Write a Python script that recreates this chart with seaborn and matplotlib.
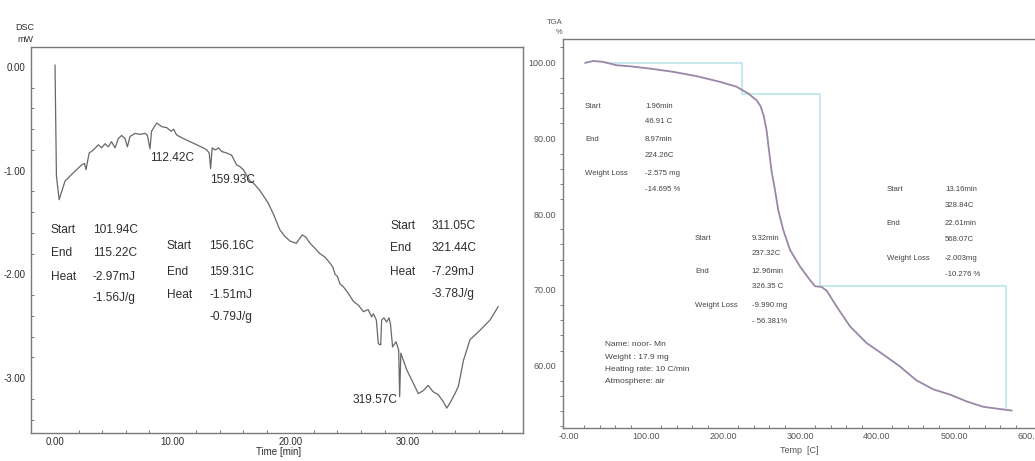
import matplotlib
matplotlib.use("Agg")
import matplotlib.pyplot as plt
from matplotlib.ticker import MultipleLocator, FormatStrFormatter
import seaborn as sns
import pandas as pd

# ---- DSC trace (time in min, heat flow in mW) ----
dsc_time = [0.0, 0.12, 0.35, 0.85, 1.56, 2.26, 2.50, 2.63, 2.90, 3.26, 3.68, 3.96, 4.25, 4.53,
            4.80, 5.10, 5.38, 5.66, 5.95, 6.15, 6.37, 6.80, 7.22, 7.65, 7.85, 8.07, 8.20,
            8.64, 9.06, 9.50, 9.86, 10.08, 10.33, 10.90, 11.47, 12.04, 12.60, 12.90, 13.10,
            13.22, 13.35, 13.60, 13.90, 14.16, 14.60, 15.00, 15.44, 15.70, 16.00, 16.30,
            16.57, 16.86, 17.40, 18.10, 18.60, 19.10, 19.50, 19.97, 20.50, 21.00, 21.30,
            21.67, 22.10, 22.50, 22.90, 23.36, 23.60, 23.80, 24.00, 24.20, 24.50, 24.90,
            25.35, 25.80, 26.20, 26.60, 26.90, 27.05, 27.30, 27.47, 27.67, 27.75, 27.95,
            28.17, 28.38, 28.50, 28.68, 28.97, 29.20, 29.28, 29.38, 29.88, 30.44, 30.87,
            31.30, 31.70, 32.10, 32.56, 33.00, 33.28, 33.56, 33.98, 34.27, 34.70, 35.26,
            36.10, 36.96, 37.66]
dsc_mw = [0.02, -1.05, -1.28, -1.10, -1.02, -0.945, -0.93, -0.99, -0.83, -0.80, -0.75, -0.78,
          -0.74, -0.77, -0.72, -0.78, -0.69, -0.66, -0.69, -0.77, -0.67, -0.64, -0.65, -0.64,
          -0.66, -0.79, -0.62, -0.54, -0.575, -0.585, -0.62, -0.60, -0.655, -0.69, -0.72,
          -0.75, -0.78, -0.80, -0.83, -0.98, -0.78, -0.80, -0.78, -0.815, -0.83, -0.85,
          -0.945, -0.96, -0.99, -1.05, -1.10, -1.12, -1.19, -1.31, -1.43, -1.57, -1.63,
          -1.68, -1.70, -1.62, -1.64, -1.70, -1.75, -1.80, -1.83, -1.89, -1.93, -2.00,
          -2.02, -2.09, -2.12, -2.18, -2.26, -2.30, -2.36, -2.34, -2.41, -2.38, -2.44,
          -2.67, -2.68, -2.44, -2.42, -2.46, -2.42, -2.48, -2.70, -2.65, -2.73, -3.18,
          -2.76, -2.92, -3.05, -3.15, -3.12, -3.07, -3.13, -3.16, -3.23, -3.29, -3.24,
          -3.15, -3.08, -2.83, -2.63, -2.54, -2.44, -2.31]

# DSC peak labels: (text, time, mW)
dsc_peaks = [("112.42C", 8.07, -0.88), ("159.93C", 13.2, -1.09), ("319.57C", 25.3, -3.21)]
# DSC event tables: label column x, value column x, row y positions, rows
dsc_tables = [
    (-0.35, 3.2, [-1.57, -1.79, -2.03, -2.23],
     ["Start", "End", "Heat", ""], ["101.94C", "115.22C", "-2.97mJ", "-1.56J/g"]),
    (9.5, 13.1, [-1.73, -1.98, -2.20, -2.41],
     ["Start", "End", "Heat", ""], ["156.16C", "159.31C", "-1.51mJ", "-0.79J/g"]),
    (28.5, 32.0, [-1.53, -1.75, -1.98, -2.19],
     ["Start", "End", "Heat", ""], ["311.05C", "321.44C", "-7.29mJ", "-3.78J/g"]),
]

# ---- TGA trace (temperature in C, weight in %) ----
tga_temp = [20.8, 31.6, 44.6, 61.9, 79.2, 105.0, 135.5, 165.8, 196.0, 217.8, 232.9, 243.8,
            249.0, 253.0, 256.7, 259.5, 263.2, 267.5, 271.8, 278.3, 287.0, 300.0, 313.0,
            319.5, 328.0, 334.7, 347.7, 365.0, 386.6, 408.0, 430.0, 451.0, 473.0, 495.0,
            516.5, 538.0, 559.7, 575.0]
tga_weight = [99.95, 100.2, 100.08, 99.64, 99.5, 99.2, 98.77, 98.2, 97.45, 96.8, 95.9, 95.0,
              94.2, 92.9, 91.0, 88.6, 85.6, 83.2, 80.5, 77.9, 75.3, 73.1, 71.3, 70.5, 70.4,
              69.9, 67.8, 65.2, 63.0, 61.5, 59.9, 58.1, 56.9, 56.2, 55.3, 54.6, 54.3, 54.1]

# TGA step construction (temperature, weight level)
step_temp = [46.91, 224.26, 224.26, 326.35, 326.35, 568.07, 568.07]
step_weight = [100.0, 100.0, 95.9, 95.9, 70.5, 70.5, 54.4]

tga_tables = [
    (20.8, 98.7, [94.2, 92.2, 89.8, 87.8, 85.4, 83.3],
     ["Start", "", "End", "", "Weight Loss", ""],
     ["1.96min", "46.91 C", "8.97min", "224.26C", "-2.575 mg", "-14.695 %"]),
    (163.6, 237.3, [76.8, 74.8, 72.4, 70.4, 68.0, 65.8],
     ["Start", "", "End", "", "Weight Loss", ""],
     ["9.32min", "237.32C", "12.96min", "326.35 C", "-9.990 mg", "- 56.381%"]),
    (412.6, 488.3, [83.2, 81.1, 78.8, 76.6, 74.2, 72.1],
     ["Start", "", "End", "", "Weight Loss", ""],
     ["13.16min", "328.84C", "22.61min", "568.07C", "-2.003mg", "-10.276 %"]),
]
sample_info = ["Name: noor- Mn", "Weight : 17.9 mg", "Heating rate: 10 C/min", "Atmosphere: air"]
sample_info_y = [62.75, 61.1, 59.55, 57.9]

sns.set_theme(style="white")
plt.rcParams["font.family"] = ["Liberation Sans", "DejaVu Sans"]

fig = plt.figure(figsize=(10.35, 4.61), dpi=100)
fig.patch.set_facecolor("white")

spine_col = "#7a7a7a"
text_col = "#2e2e2e"
note_size = 8.6

# ---------------- DSC panel ----------------
ax1 = fig.add_axes([31 / 1035, 1 - 433 / 461, (523 - 31) / 1035, (433 - 47) / 461])
df_dsc = pd.DataFrame({"t": dsc_time, "mw": dsc_mw})
sns.lineplot(data=df_dsc, x="t", y="mw", ax=ax1, color="#686868", linewidth=0.9,
             estimator=None, sort=False)
ax1.set_xlim(-2.04, 39.76)
ax1.set_ylim(-3.53, 0.193)
ax1.xaxis.set_major_locator(MultipleLocator(10))
ax1.xaxis.set_minor_locator(MultipleLocator(2))
ax1.yaxis.set_major_locator(MultipleLocator(1))
ax1.yaxis.set_minor_locator(MultipleLocator(0.2))
ax1.xaxis.set_major_formatter(FormatStrFormatter("%.2f"))
ax1.yaxis.set_major_formatter(FormatStrFormatter("%.2f"))
ax1.tick_params(axis="x", which="major", direction="in", length=4, width=0.8,
                color=spine_col, labelsize=7, labelcolor=text_col, pad=3)
ax1.tick_params(axis="x", which="minor", direction="in", length=2.5, width=0.7,
                color=spine_col, bottom=True)
ax1.tick_params(axis="y", which="major", direction="out", length=3, width=0.8,
                color=spine_col, labelsize=7, labelcolor=text_col, pad=1)
ax1.tick_params(axis="y", which="minor", direction="in", length=2.5, width=0.7,
                color=spine_col, left=True)
for s in ax1.spines.values():
    s.set_color(spine_col)
    s.set_linewidth(1.0)
ax1.set_xlabel("")
ax1.set_ylabel("")
fig.text(25 / 1035, 1 - 27 / 461, "DSC", fontsize=6.5, color=text_col, ha="center", va="center")
fig.text(25 / 1035, 1 - 39 / 461, "mW", fontsize=6.5, color=text_col, ha="center", va="center")
fig.text(279 / 1035, 1 - 452 / 461, "Time [min]", fontsize=7, color=text_col,
         ha="center", va="center")

for txt, tx, ty in dsc_peaks:
    ax1.text(tx, ty, txt, fontsize=note_size, color=text_col, ha="left", va="center")
for lx, vx, ys, labels, values in dsc_tables:
    for y, lab, val in zip(ys, labels, values):
        if lab:
            ax1.text(lx, y, lab, fontsize=note_size, color=text_col, ha="left", va="center")
        ax1.text(vx, y, val, fontsize=note_size, color=text_col, ha="left", va="center")

# ---------------- TGA panel ----------------
ax2 = fig.add_axes([563 / 1035, 1 - 428 / 461, (1040 - 563) / 1035, (428 - 39) / 461])
df_step = pd.DataFrame({"T": step_temp, "w": step_weight})
ax2.plot(df_step["T"], df_step["w"], color="#b5e3ea", linewidth=1.1)
df_tga = pd.DataFrame({"T": tga_temp, "w": tga_weight})
sns.lineplot(data=df_tga, x="T", y="w", ax=ax2, color="#9a86a6", linewidth=1.3,
             estimator=None, sort=False)
ax2.yaxis.set_major_locator(MultipleLocator(10))
ax2.yaxis.set_minor_locator(MultipleLocator(2))
ax2.xaxis.set_minor_locator(MultipleLocator(20))
ax2.yaxis.set_major_formatter(FormatStrFormatter("%.2f"))
xt = list(range(0, 700, 100))
ax2.set_xticks(xt)
ax2.set_xticklabels(["-0.00"] + [f"{v:.2f}" for v in xt[1:]])
ax2.set_xlim(-7.8, 611.7)
ax2.set_ylim(51.8, 103.1)
ax2.tick_params(axis="x", which="major", direction="in", length=4, width=0.8,
                color=spine_col, labelsize=6.5, labelcolor="#555555", pad=3)
ax2.tick_params(axis="x", which="minor", direction="in", length=2.5, width=0.7,
                color=spine_col, bottom=True)
ax2.tick_params(axis="y", which="major", direction="out", length=3, width=0.8,
                color=spine_col, labelsize=6.5, labelcolor="#555555", pad=2)
ax2.tick_params(axis="y", which="minor", direction="out", length=2, width=0.7,
                color=spine_col, left=True)
for s in ax2.spines.values():
    s.set_color(spine_col)
    s.set_linewidth(1.0)
ax2.set_xlabel("")
ax2.set_ylabel("")
fig.text(563 / 1035, 1 - 23 / 461, "TGA", fontsize=5.5, color="#555555", ha="right", va="center")
fig.text(563 / 1035, 1 - 32 / 461, "%", fontsize=5.5, color="#555555", ha="right", va="center")
fig.text(799 / 1035, 1 - 450 / 461, "Temp  [C]", fontsize=6.5, color="#555555",
         ha="center", va="center")

for lx, vx, ys, labels, values in tga_tables:
    for y, lab, val in zip(ys, labels, values):
        if lab:
            ax2.text(lx, y, lab, fontsize=5.6, color="#444444", ha="left", va="center")
        ax2.text(vx, y, val, fontsize=5.6, color="#444444", ha="left", va="center")
for line, y in zip(sample_info, sample_info_y):
    ax2.text(46.8, y, line, fontsize=6.0, color="#444444", ha="left", va="center")

fig.savefig("out.png", dpi=100, facecolor="white")
